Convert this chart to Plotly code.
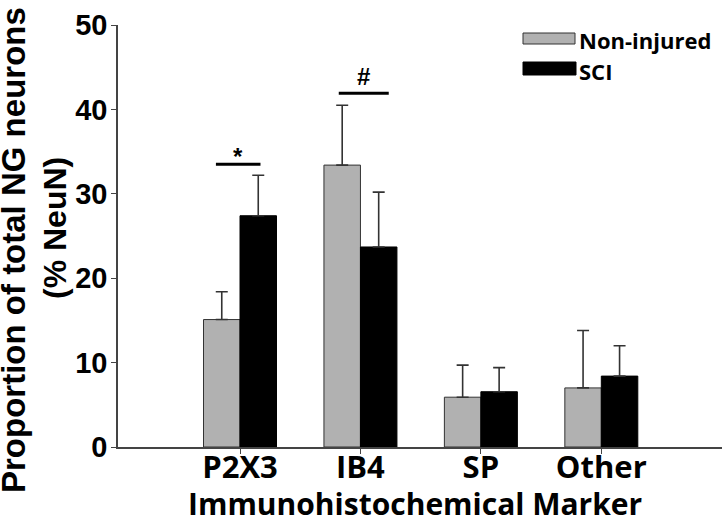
import plotly.graph_objects as go

categories = ["P2X3", "IB4", "SP", "Other"]
non_injured = [15.1, 33.4, 5.9, 7.0]
non_injured_err = [3.3, 7.1, 3.8, 6.8]
sci = [27.4, 23.7, 6.55, 8.4]
sci_err = [4.8, 6.5, 2.85, 3.6]
y_ticks = [0, 10, 20, 30, 40, 50]

# significance markers: (x-start, x-end, y-level, symbol)
sig_marks = [(-0.2, 0.17, 33.5, "*"), (0.82, 1.235, 41.9, "#")]

GRAY = "#b1b1b1"
xpos = list(range(len(categories)))

fig = go.Figure()
fig.add_trace(go.Bar(
    x=xpos, y=non_injured, name="Non-injured",
    marker=dict(color=GRAY, line=dict(color="#333333", width=1)),
    error_y=dict(type="data", symmetric=False, array=non_injured_err,
                 arrayminus=[0] * 4, color="#333333", thickness=1.6, width=6),
))
fig.add_trace(go.Bar(
    x=xpos, y=sci, name="SCI",
    marker=dict(color="#000000", line=dict(color="#000000", width=1)),
    error_y=dict(type="data", symmetric=False, array=sci_err,
                 arrayminus=[0] * 4, color="#333333", thickness=1.6, width=6),
))

shapes = []
annotations = []
for x0, x1, yv, sym in sig_marks:
    shapes.append(dict(type="line", xref="x", yref="y", x0=x0, x1=x1, y0=yv, y1=yv,
                       line=dict(color="black", width=3)))
    annotations.append(dict(xref="x", yref="y", x=(x0 + x1) / 2, y=yv,
                            text=f"<b>{sym}</b>", showarrow=False, yanchor="bottom",
                            font=dict(family="Liberation Sans", size=24, color="black"),
                            yshift=-8 if sym == "*" else 1))

# manual legend
PW, PH, L = 604.0, 422.0, 118.0
def px(x):
    return (x - L) / PW
def py(y):
    return (447.0 - y) / PH

shapes.append(dict(type="rect", xref="paper", yref="paper",
                   x0=px(523), x1=px(575), y0=py(44), y1=py(33),
                   fillcolor=GRAY, line=dict(color="#333333", width=1)))
shapes.append(dict(type="rect", xref="paper", yref="paper",
                   x0=px(523), x1=px(576), y0=py(75), y1=py(62),
                   fillcolor="black", line=dict(color="black", width=1)))
legend_font = dict(family="Open Sans", size=22, color="black")
annotations.append(dict(xref="paper", yref="paper", x=px(577), y=py(40),
                        xanchor="left", yanchor="middle", showarrow=False,
                        text="<b>Non-injured</b>", font=legend_font))
annotations.append(dict(xref="paper", yref="paper", x=px(577), y=py(70.5),
                        xanchor="left", yanchor="middle", showarrow=False,
                        text="<b>SCI</b>", font=legend_font))

# axis titles
annotations.append(dict(xref="paper", yref="paper", x=px(415), y=py(503),
                        xanchor="center", yanchor="middle", showarrow=False,
                        text="<b>Immunohistochemical Marker</b>",
                        font=dict(family="Open Sans", size=30, color="black")))
annotations.append(dict(xref="paper", yref="paper", x=px(13), y=py(250),
                        xanchor="center", yanchor="middle", showarrow=False, textangle=-90,
                        text="<b>Proportion of total NG neurons</b>",
                        font=dict(family="Liberation Sans", size=33, color="black")))
annotations.append(dict(xref="paper", yref="paper", x=px(55), y=py(228),
                        xanchor="center", yanchor="middle", showarrow=False, textangle=-90,
                        text="<b>(% NeuN)</b>",
                        font=dict(family="Liberation Sans", size=32, color="black")))

fig.update_layout(
    width=724, height=517,
    margin=dict(l=118, r=2, t=25, b=70),
    paper_bgcolor="white", plot_bgcolor="white",
    barmode="group", bargap=0.394, bargroupgap=0,
    showlegend=False,
    shapes=shapes, annotations=annotations,
    xaxis=dict(range=[-1.013, 4.002], tickmode="array", tickvals=xpos,
               ticktext=[f"<b>{c}</b>" for c in categories],
               showline=True, linecolor="#444444", linewidth=1.5,
               ticks="outside", ticklen=5, tickcolor="#444444", tickwidth=1.2,
               showgrid=False, zeroline=False, ticklabelstandoff=-13,
               tickfont=dict(family="Open Sans", size=31, color="black")),
    yaxis=dict(range=[0, 50], tickvals=y_ticks, ticktext=[f"<b>{t}</b>" for t in y_ticks],
               showline=True, linecolor="#444444", linewidth=1.5,
               ticks="outside", ticklen=5, tickcolor="#444444", tickwidth=1.2,
               showgrid=False, zeroline=False, ticklabelstandoff=-2,
               tickfont=dict(family="Liberation Sans", size=29, color="black")),
)

fig.write_html("out.html", config={"displayModeBar": False},
               post_script="document.body.style.margin='0';document.body.style.overflow='hidden';")
